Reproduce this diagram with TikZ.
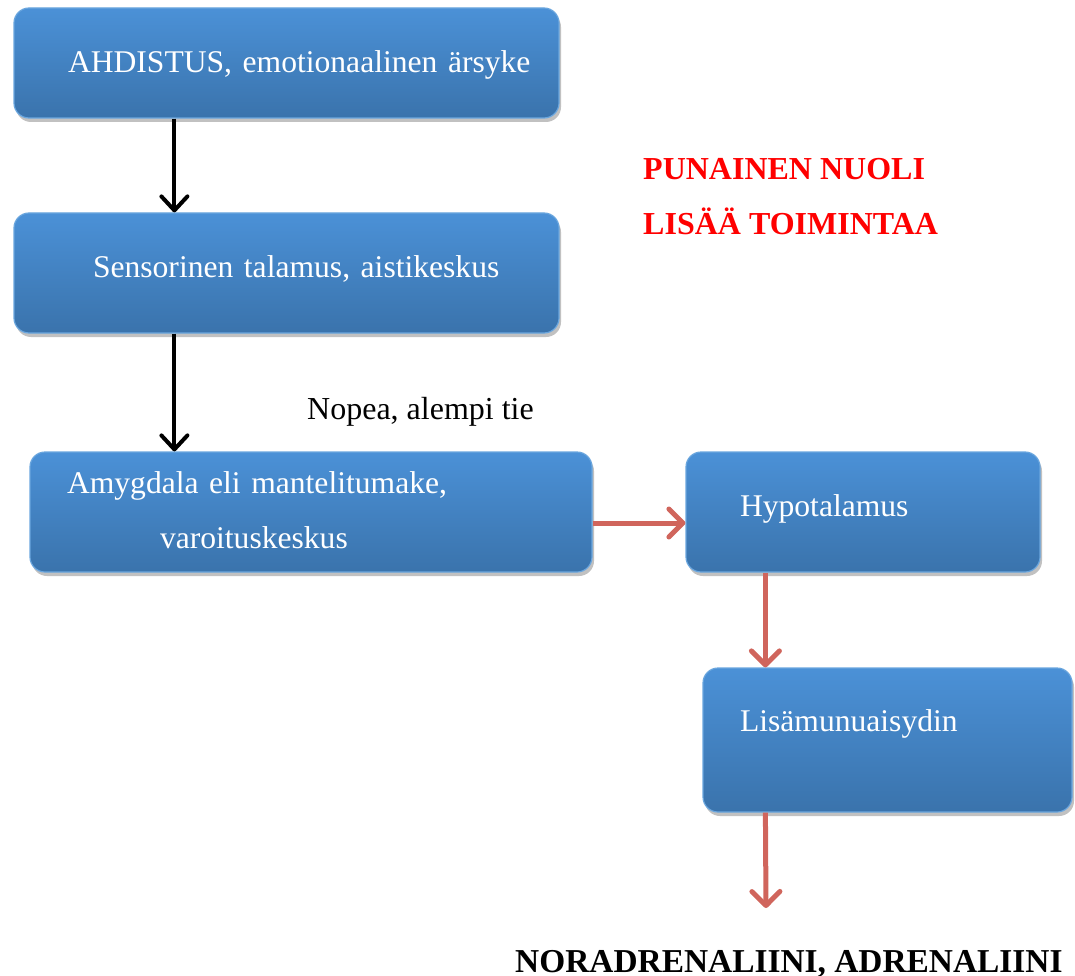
\documentclass[tikz,border=0pt]{standalone}
\usepackage{fontspec}
\setmainfont{Liberation Serif}
\usetikzlibrary{arrows.meta,shadows}
\definecolor{boxtop}{HTML}{4B91D7}
\definecolor{boxbot}{HTML}{3A73AC}
\definecolor{boxrim}{HTML}{6AA6DE}
\definecolor{arrred}{HTML}{D0655C}
\begin{document}
\begin{tikzpicture}[x=1pt,y=-1pt,
  bluebox/.style={rounded corners=15pt, top color=boxtop, bottom color=boxbot,
    draw=boxrim, line width=1.2pt, text=white, inner sep=0pt, align=left,
    font=\fontsize{31.6}{55}\selectfont, text height=22pt, text depth=7pt,
    drop shadow={shadow xshift=2pt, shadow yshift=-4pt, opacity=0.35, fill=black!70}},
  blackarrow/.style={line width=4pt, draw=black, -{Straight Barb[length=14pt,width=26pt,round]}},
  redarrow/.style={line width=5pt, draw=arrred, -{Straight Barb[length=14pt,width=28pt,round]}},
  plain/.style={font=\fontsize{32}{38}\selectfont, inner sep=0pt},
  redlabel/.style={font=\fontsize{32}{38}\selectfont\bfseries, text=red, inner sep=0pt}
]
\useasboundingbox (0,0) rectangle (1075,976);

\node[bluebox, minimum width=545pt, minimum height=110pt, text width=545pt, text depth=3pt] (b1) at (286.5,63)
  {\hspace*{54pt}AHDISTUS, emotionaalinen ärsyke};
\node[bluebox, minimum width=545pt, minimum height=120pt, text width=545pt, text depth=13pt] (b2) at (286.5,273)
  {\hspace*{79pt}Sensorinen talamus, aistikeskus};
\node[bluebox, minimum width=562pt, minimum height=120pt, text width=562pt, text depth=59pt] (b3) at (311,512)
  {\hspace*{37pt}Amygdala eli mantelitumake,\\\hspace*{130pt}varoituskeskus};
\node[bluebox, minimum width=354pt, minimum height=120pt, text width=354pt, text depth=14pt] (b4) at (863,512)
  {\hspace*{54pt}Hypotalamus};
\node[bluebox, minimum width=369pt, minimum height=144pt, text width=369pt, text depth=40pt] (b5) at (887.5,740)
  {\hspace*{37pt}Lisämunuaisydin};

\node[redlabel, anchor=base west] (r1) at (643,180) {PUNAINEN NUOLI};
\node[redlabel, anchor=base west] (r2) at (643,235) {LISÄÄ TOIMINTAA};
\node[plain, anchor=base west] (tie) at (307,419) {Nopea, alempi tie};
\node[plain, anchor=base west, font=\fontsize{33.4}{38}\selectfont\bfseries] (out) at (515,972) {NORADRENALIINI, ADRENALIINI};

\coordinate (endpt) at (766,908);

\draw[blackarrow] ([xshift=161pt]b1.south west) -- ([xshift=161pt]b2.north west);
\draw[blackarrow] ([xshift=161pt]b2.south west) -- ([xshift=145pt]b3.north west);
\draw[redarrow] ([yshift=-11pt]b3.east) -- ([yshift=-11pt]b4.west);
\draw[redarrow] ([xshift=80pt]b4.south west) -- ([xshift=63pt]b5.north west);
\draw[redarrow] ([xshift=63pt]b5.south west) -- (endpt);
\end{tikzpicture}
\end{document}
